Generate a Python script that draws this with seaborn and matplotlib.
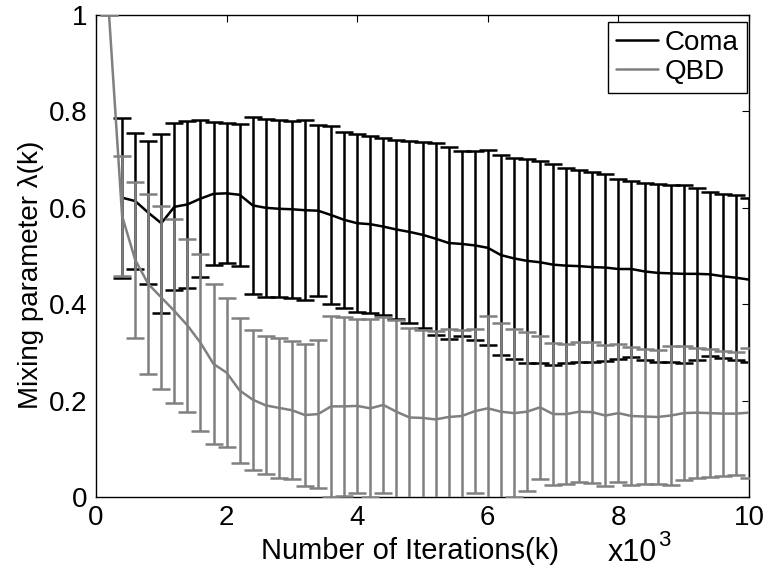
import matplotlib
matplotlib.use("Agg")
import matplotlib.pyplot as plt
import seaborn as sns
import pandas as pd

# ---- data (x in units of 10^3 iterations) ----
iters = [0.2, 0.4, 0.6, 0.8, 1.0, 1.2, 1.4, 1.6, 1.8, 2.0,
         2.2, 2.4, 2.6, 2.8, 3.0, 3.2, 3.4, 3.6, 3.8, 4.0,
         4.2, 4.4, 4.6, 4.8, 5.0, 5.2, 5.4, 5.6, 5.8, 6.0,
         6.2, 6.4, 6.6, 6.8, 7.0, 7.2, 7.4, 7.6, 7.8, 8.0,
         8.2, 8.4, 8.6, 8.8, 9.0, 9.2, 9.4, 9.6, 9.8, 10.0]

coma_x = iters[1:]
coma_mean = [0.621, 0.614, 0.590, 0.568, 0.602, 0.607, 0.619, 0.629, 0.630,
             0.627, 0.605, 0.600, 0.598, 0.597, 0.595, 0.594, 0.585, 0.575, 0.568,
             0.566, 0.561, 0.555, 0.550, 0.544, 0.536, 0.527, 0.525, 0.522, 0.517,
             0.502, 0.495, 0.490, 0.487, 0.482, 0.480, 0.479, 0.477, 0.476, 0.473,
             0.473, 0.468, 0.465, 0.464, 0.463, 0.463, 0.462, 0.458, 0.455, 0.451]
coma_err = [0.166, 0.141, 0.148, 0.186, 0.173, 0.173, 0.163, 0.148, 0.145,
            0.147, 0.184, 0.185, 0.184, 0.184, 0.187, 0.177, 0.185, 0.183, 0.185,
            0.184, 0.183, 0.186, 0.188, 0.193, 0.199, 0.200, 0.192, 0.196, 0.202,
            0.207, 0.209, 0.212, 0.210, 0.208, 0.203, 0.199, 0.197, 0.194, 0.187,
            0.183, 0.183, 0.184, 0.183, 0.184, 0.178, 0.170, 0.170, 0.171, 0.170]

qbd_x = iters
qbd_mean = [1.000, 0.583, 0.492, 0.442, 0.414, 0.386, 0.356, 0.320, 0.276, 0.258,
            0.221, 0.202, 0.190, 0.185, 0.180, 0.170, 0.172, 0.188, 0.188, 0.189,
            0.184, 0.191, 0.177, 0.165, 0.164, 0.161, 0.166, 0.168, 0.178, 0.184,
            0.177, 0.174, 0.177, 0.186, 0.172, 0.172, 0.177, 0.176, 0.169, 0.174,
            0.168, 0.167, 0.166, 0.169, 0.174, 0.175, 0.174, 0.173, 0.173, 0.175]
qbd_err = [0.000, 0.125, 0.162, 0.186, 0.190, 0.191, 0.180, 0.184, 0.166, 0.155,
           0.150, 0.145, 0.143, 0.145, 0.143, 0.148, 0.153, 0.187, 0.186, 0.181,
           0.185, 0.183, 0.190, 0.186, 0.182, 0.183, 0.183, 0.178, 0.170, 0.192,
           0.184, 0.175, 0.165, 0.149, 0.147, 0.146, 0.145, 0.146, 0.147, 0.143,
           0.143, 0.141, 0.140, 0.145, 0.139, 0.135, 0.133, 0.130, 0.128, 0.135]

series_names = ["Coma", "QBD"]
series_colors = ["#000000", "#808080"]
x_ticks = [0, 2, 4, 6, 8, 10]
y_ticks = [0, 0.2, 0.4, 0.6, 0.8, 1]
y_tick_labels = ["0", "0.2", "0.4", "0.6", "0.8", "1"]

# ---- style ----
sns.set_theme(style="white")
plt.rcParams["font.family"] = ["Liberation Sans", "DejaVu Sans"]
plt.rcParams["text.color"] = "black"

fig = plt.figure(figsize=(7.7, 5.76), dpi=100)
ax = fig.add_axes([96 / 770, 1 - 497 / 576, (749 - 96) / 770, (497 - 15) / 576])

frames = [
    pd.DataFrame({"x": coma_x, "y": coma_mean, "e": coma_err}),
    pd.DataFrame({"x": qbd_x, "y": qbd_mean, "e": qbd_err}),
]

for i, (df, name, col) in enumerate(zip(frames, series_names, series_colors)):
    z = 2 + 2 * i
    sns.lineplot(data=df, x="x", y="y", ax=ax, color=col, linewidth=1.8,
                 label=name, zorder=z + 1, estimator=None, sort=False)
    ax.errorbar(df["x"], df["y"], yerr=df["e"], fmt="none", ecolor=col,
                elinewidth=1.8, capsize=6.5, capthick=1.8, zorder=z)

ax.set_xlim(0, 10)
ax.set_ylim(0, 1)
ax.set_xticks(x_ticks)
ax.set_xticklabels([str(t) for t in x_ticks])
ax.set_yticks(y_ticks)
ax.set_yticklabels(y_tick_labels)
ax.tick_params(direction="in", length=5, width=0.8, top=True, right=True,
               labelsize=20, colors="black", pad=6)
for s in ax.spines.values():
    s.set_visible(True)
    s.set_color("black")
    s.set_linewidth(1.0)

ax.set_xlabel("")
ax.set_ylabel("")
fig.text(410 / 770, 1 - 551 / 576, "Number of Iterations(k)", ha="center",
         va="center", fontsize=21, color="black")
fig.text(608 / 770, 1 - 553 / 576, "x10", ha="left", va="center",
         fontsize=22, color="black")
fig.text(658 / 770, 1 - 540 / 576, "3", ha="left", va="center",
         fontsize=16, color="black")
fig.text(31 / 770, 1 - 275 / 576, "Mixing parameter λ(k)", ha="center",
         va="center", rotation=90, fontsize=20, color="black")

leg = ax.legend(loc="upper right", bbox_to_anchor=(0.997, 0.986),
                borderaxespad=0, fontsize=20, frameon=True, fancybox=False,
                edgecolor="black", framealpha=1, handlelength=1.5,
                handletextpad=0.25, labelspacing=0.1, borderpad=0.3)
leg.get_frame().set_linewidth(1.0)
for t in leg.get_texts():
    t.set_color("black")

fig.savefig("out.png", dpi=100)
